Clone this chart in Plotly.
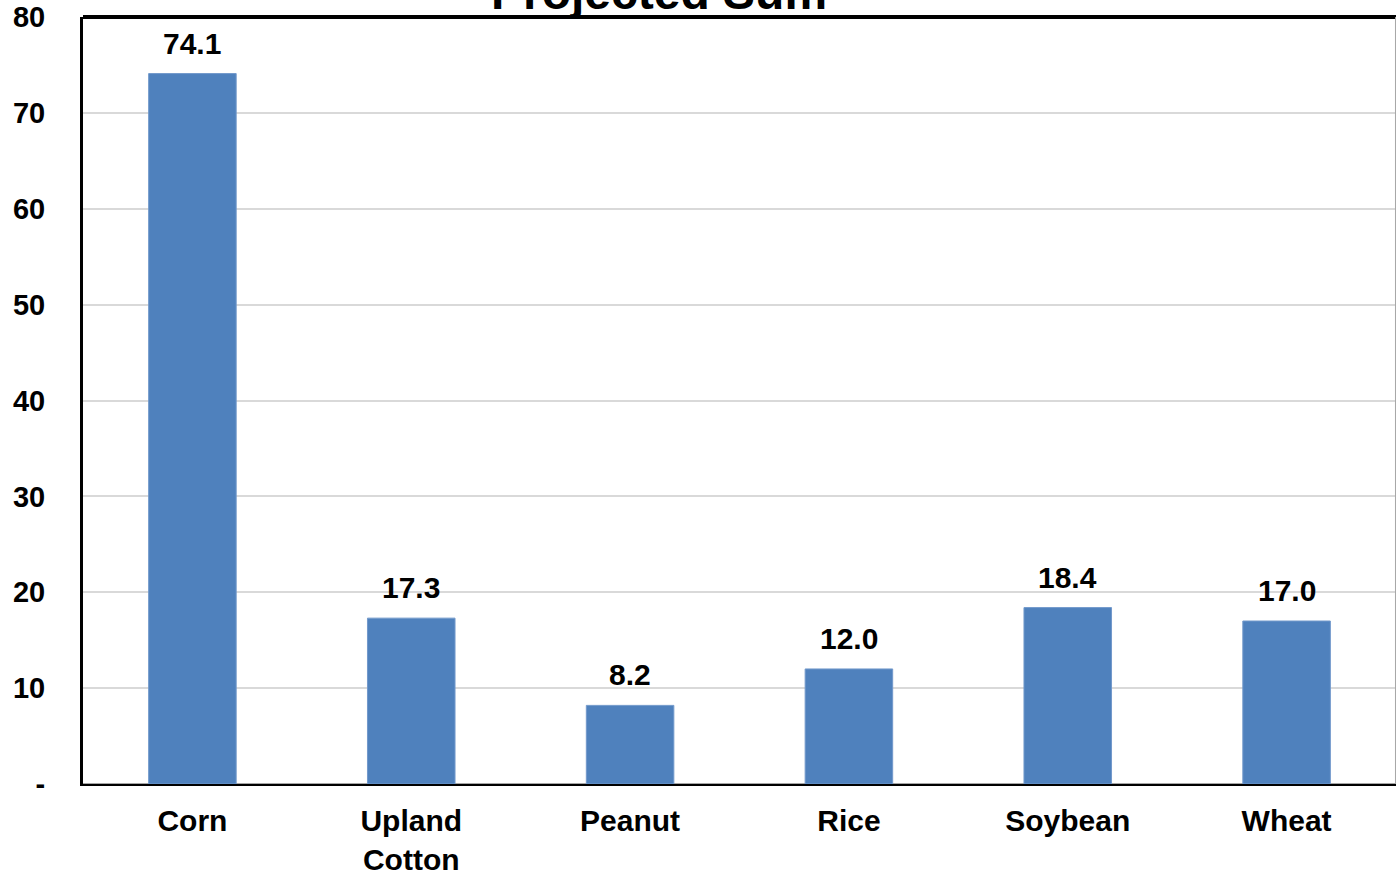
import plotly.graph_objects as go

# Projected sums by crop
crops = ["Corn", "Upland<br>Cotton", "Peanut", "Rice", "Soybean", "Wheat"]
projected = [74.1, 17.3, 8.2, 12.0, 18.4, 17.0]

y_tick_vals = [0, 10, 20, 30, 40, 50, 60, 70, 80]
y_tick_text = ["-", "10", "20", "30", "40", "50", "60", "70", "80"]

FONT = "Liberation Sans, Arial, sans-serif"
BAR_COLOR = "#4F81BD"

fig = go.Figure()
fig.add_trace(go.Bar(
    x=crops,
    y=projected,
    width=0.4,
    marker=dict(color=BAR_COLOR, line=dict(color="#7299CB", width=1)),
    hoverinfo="x+y",
))

# value labels above each bar
annotations = [
    dict(x=c, y=v, xref="x", yref="y", text=f"{v:.1f}", showarrow=False,
         yanchor="bottom", yshift=12,
         font=dict(family=FONT, size=30, color="black", weight="bold"))
    for c, v in zip(crops, projected)
]
annotations.append(dict(
    x=0.4387, y=1, xref="paper", yref="paper", text="Projected Sum",
    showarrow=False, xanchor="center", yanchor="bottom", yshift=-4,
    font=dict(family=FONT, size=48, color="black", weight="bold"),
))

fig.update_layout(
    width=1396, height=873,
    margin=dict(l=83, r=0, t=17, b=89),
    paper_bgcolor="white", plot_bgcolor="white",
    showlegend=False,
    bargap=0.6,
    annotations=annotations,
    font=dict(family=FONT, size=30, color="black"),
    shapes=[
        dict(type="line", xref="paper", yref="paper", x0=0, x1=1, y0=1, y1=1,
             line=dict(color="black", width=4), layer="above"),
        dict(type="line", xref="paper", yref="paper", x0=0.9996, x1=0.9996, y0=0, y1=1,
             line=dict(color="#A6A6A6", width=1), layer="above"),
    ],
)

fig.update_xaxes(
    range=[-0.5, 5.5],
    automargin=False,
    showline=True, linecolor="black", linewidth=2,
    showgrid=False, ticks="",
    tickfont=dict(family=FONT, size=30, color="black", weight="bold"),
    ticklabelstandoff=9,
)
fig.update_yaxes(
    range=[0, 80],
    automargin=False,
    tickvals=y_tick_vals, ticktext=y_tick_text,
    showline=True, linecolor="black", linewidth=3,
    showgrid=True, gridcolor="#D9D9D9", gridwidth=2,
    zeroline=True, zerolinecolor="#A6A6A6", zerolinewidth=2,
    ticks="",
    tickfont=dict(family=FONT, size=29, color="black", weight="bold"),
    ticklabelstandoff=29,
)

fig.write_html("out.html")
